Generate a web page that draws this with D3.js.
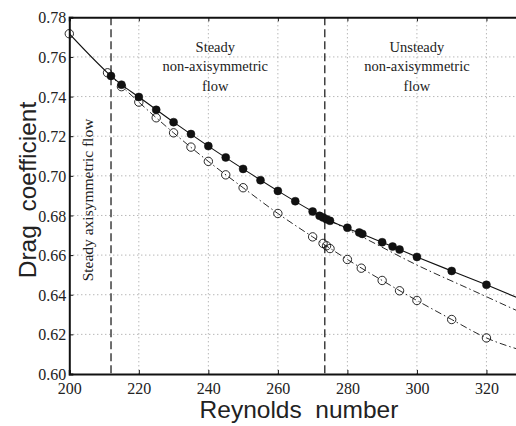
<!DOCTYPE html>
<html><head><meta charset="utf-8">
<script src="https://cdn.jsdelivr.net/npm/d3@7"></script>
<style>
html,body{margin:0;padding:0;background:#fff;overflow:hidden;}
svg{display:block;}
</style></head>
<body>
<svg id="chart" width="516" height="426"></svg>
<script>
// ---- data ----
const xTicks = [200, 220, 240, 260, 280, 300, 320];
const yTicks = [0.60, 0.62, 0.64, 0.66, 0.68, 0.70, 0.72, 0.74, 0.76, 0.78];
const xTickLabels = ["200", "220", "240", "260", "280", "300", "320"];
const yTickLabels = ["0.60", "0.62", "0.64", "0.66", "0.68", "0.70", "0.72", "0.74", "0.76", "0.78"];

// filled circles: steady non-axisymmetric branch
const reFilled = [212, 215, 220, 225, 230, 235, 240, 245, 250, 255, 260, 265, 270, 272, 273, 274, 275, 280, 283.4, 284.3, 290, 293, 295, 300, 310, 320];
const cdFilled = [0.7504, 0.746, 0.7398, 0.7333, 0.7271, 0.7211, 0.715, 0.7093, 0.7035, 0.6978, 0.6924, 0.6872, 0.682, 0.6798, 0.679, 0.6781, 0.6773, 0.6738, 0.6714, 0.6707, 0.6665, 0.6643, 0.6628, 0.6591, 0.652, 0.645];

// open circles: axisymmetric branch
const reOpen = [200, 211, 215, 220, 225, 230, 235, 240, 245, 250, 260, 270, 273, 274, 275, 280, 284, 290, 295, 300, 310, 320];
const cdOpen = [0.7717, 0.752, 0.745, 0.7372, 0.7293, 0.7217, 0.7145, 0.7073, 0.7005, 0.694, 0.681, 0.6692, 0.6659, 0.6647, 0.6633, 0.6578, 0.6534, 0.6472, 0.642, 0.6371, 0.6275, 0.6182];

// solid fitted curve (through filled branch)
const reSolid = [200, 211, 212, 215, 220, 230, 240, 250, 260, 270, 275, 280, 290, 300, 310, 320, 330];
const cdSolid = [0.7717, 0.752, 0.7504, 0.746, 0.7398, 0.7271, 0.715, 0.7035, 0.6924, 0.682, 0.6773, 0.6736, 0.6665, 0.6591, 0.652, 0.645, 0.6377];

// dash-dot curve (axisymmetric branch)
const reAxi = [211, 220, 230, 240, 250, 260, 270, 280, 290, 300, 310, 320, 330];
const cdAxi = [0.752, 0.7372, 0.7217, 0.7073, 0.694, 0.681, 0.6692, 0.6578, 0.6472, 0.6371, 0.6275, 0.6182, 0.612];

// dash-dot curve (steady branch continued into unsteady regime)
const reExt = [275, 285, 300, 315, 330];
const cdExt = [0.6773, 0.6685, 0.655, 0.643, 0.631];

// critical Reynolds numbers
const reCrit = [212, 273.5];

const regionLabels = [
  {x: 242, lines: ["Steady", "non-axisymmetric", "flow"]},
  {x: 300, lines: ["Unsteady", "non-axisymmetric", "flow"]}
];

// ---- layout ----
const svg = d3.select("#chart");
const pL = 69.3, pR = 521.2, pT = 17.3, pB = 374;
const x = d3.scaleLinear().domain([200, 330]).range([pL, pR]);
const y = d3.scaleLinear().domain([0.60, 0.78]).range([pB, pT]);

const serif = "'Liberation Serif','Times New Roman',serif";
const sans = "'Liberation Sans',Arial,Helvetica,sans-serif";

// grid
const grid = svg.append("g").attr("stroke", "#999").attr("stroke-width", 1).attr("stroke-dasharray", "1,3");
grid.selectAll(".gx").data(xTicks.slice(1)).enter().append("line")
  .attr("x1", d => x(d)).attr("x2", d => x(d)).attr("y1", pT).attr("y2", pB);
grid.selectAll(".gy").data(yTicks.slice(1, -1)).enter().append("line")
  .attr("x1", pL).attr("x2", pR).attr("y1", d => y(d)).attr("y2", d => y(d));

// critical Re dashed lines
svg.append("g").selectAll("line").data(reCrit).enter().append("line")
  .attr("x1", d => x(d)).attr("x2", d => x(d)).attr("y1", pT).attr("y2", pB)
  .attr("stroke", "#222").attr("stroke-width", 1.3).attr("stroke-dasharray", "8,4");

// curves
const line = (xs, ys) => d3.line().curve(d3.curveMonotoneX)
  .x((d, i) => x(xs[i])).y((d, i) => y(ys[i]))(xs);
svg.append("clipPath").attr("id", "clip").append("rect")
  .attr("x", pL).attr("y", pT).attr("width", pR - pL).attr("height", pB - pT);
const curves = svg.append("g").attr("clip-path", "url(#clip)").attr("fill", "none");
curves.append("path").attr("d", line(reSolid, cdSolid)).attr("stroke", "#111").attr("stroke-width", 1.1);
curves.append("path").attr("d", line(reAxi, cdAxi)).attr("stroke", "#111").attr("stroke-width", 0.9).attr("stroke-dasharray", "7,3,1.5,3");
curves.append("path").attr("d", line(reExt, cdExt)).attr("stroke", "#111").attr("stroke-width", 0.9).attr("stroke-dasharray", "7,3,1.5,3");

// markers
svg.append("g").selectAll("circle").data(reOpen).enter().append("circle")
  .attr("cx", d => x(d)).attr("cy", (d, i) => y(cdOpen[i])).attr("r", 4.2)
  .attr("fill", "none").attr("stroke", "#111").attr("stroke-width", 0.9);
svg.append("g").selectAll("circle").data(reFilled).enter().append("circle")
  .attr("cx", d => x(d)).attr("cy", (d, i) => y(cdFilled[i])).attr("r", 4)
  .attr("fill", "#111").attr("stroke", "#111").attr("stroke-width", 0.5);

// axes
const xAxis = d3.axisBottom(x).tickValues(xTicks).tickSize(-4).tickPadding(9)
  .tickFormat((d, i) => xTickLabels[i]);
const yAxis = d3.axisLeft(y).tickValues(yTicks).tickSize(-4).tickPadding(3)
  .tickFormat((d, i) => yTickLabels[i]);
const xTop = d3.axisTop(x).tickValues(xTicks).tickSize(-4).tickFormat("");

const gx = svg.append("g").attr("transform", `translate(0,${pB})`).call(xAxis);
const gy = svg.append("g").attr("transform", `translate(${pL},0)`).call(yAxis);
const gt = svg.append("g").attr("transform", `translate(0,${pT})`).call(xTop);
[gx, gy, gt].forEach(g => {
  g.select(".domain").attr("stroke", "#111").attr("stroke-width", 2);
  g.selectAll(".tick line").attr("stroke", "#111").attr("stroke-width", 1);
  g.selectAll("text").attr("fill", "#222").attr("font-family", serif).attr("font-size", 16);
});
gy.selectAll(".tick text").attr("dy", "0.35em");

// region labels
regionLabels.forEach(r => {
  const t = svg.append("text").attr("font-family", serif).attr("font-size", 14.5).attr("fill", "#222")
    .attr("text-anchor", "middle");
  r.lines.forEach((s, i) => {
    t.append("tspan").attr("x", x(r.x)).attr("y", 52 + i * 19.3).text(s);
  });
});
svg.append("text").attr("font-family", serif).attr("font-size", 15.5).attr("fill", "#222")
  .attr("text-anchor", "middle")
  .attr("transform", `translate(${x(206.8)},200) rotate(-90)`)
  .text("Steady axisymmetric flow");

// axis titles
svg.append("text").attr("font-family", sans).attr("font-size", 24.5).attr("fill", "#222")
  .attr("text-anchor", "middle").attr("x", 299).attr("y", 418).style("white-space", "pre")
  .text("Reynolds  number");
svg.append("text").attr("font-family", sans).attr("font-size", 24.5).attr("fill", "#222")
  .attr("text-anchor", "middle").style("white-space", "pre")
  .attr("transform", "translate(36,190) rotate(-90)")
  .text("Drag  coefficient");
</script>
</body></html>
